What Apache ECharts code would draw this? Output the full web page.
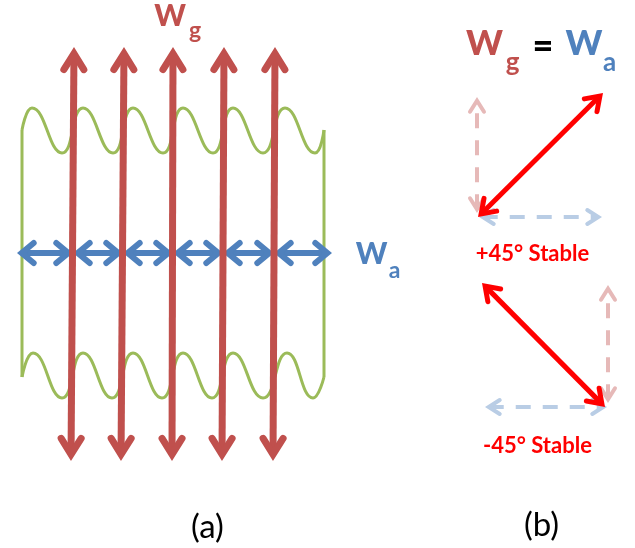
<!DOCTYPE html>
<html>
<head>
<meta charset="utf-8">
<script src="https://cdn.jsdelivr.net/npm/echarts@6/dist/echarts.min.js"></script>
<style>
html,body{margin:0;padding:0;background:#fff;}
#chart{width:635px;height:548px;}
</style>
</head>
<body>
<div id="chart"></div>
<script>
// ---- diagram data (diagram units: x 0..635, y 0..548 downward) ----
const WG_TOP_X = [74, 124, 173, 224, 275];
const WG_BOTTOM_X = [71, 121, 172, 222, 273];
const WG_TOP_Y = 47;
const WG_BOTTOM_Y = 461;
const WA_STOPS = [17, 73, 123, 173, 223, 274, 332];
const WA_Y = 253;
const WAVE_TOP = [[22,130],[32,108],[62,153],[83,108],[113,153],[133,108],[163,153],[183,108],[213,153],[233,108],[263,153],[285,108],[315,153],[324,130]];
const WAVE_BOTTOM = [[22,377],[33,353],[62,398],[83,353],[112,398],[133,353],[162,398],[183,353],[212,398],[233,353],[263,398],[287,353],[313,398],[324,377]];
const SIDE_LEFT = [[22,130],[22,377]];
const SIDE_RIGHT = [[324,130],[324,377]];
const PLUS45_DIAG = [478, 217, 603, 93];
const PLUS45_WG = [477, 213, 477, 97];
const PLUS45_WA = [479, 217, 602, 217];
const MINUS45_DIAG = [482, 283, 605, 407];
const MINUS45_WG = [608, 403, 608, 285];
const MINUS45_WA = [485, 407, 607, 407];
const LABEL_A_WG = [['W', 170, 16], ['g', 195, 31]];
const LABEL_A_WA = [['W', 371.5, 254], ['a', 394.5, 271]];
const LABEL_B_WG = [['W', 484.5, 44], ['g', 512.5, 63]];
const LABEL_B_EQ = [['=', 543, 46]];
const LABEL_B_WA = [['W', 584, 44], ['a', 609.5, 63]];
const LABEL_STABLE = [['+45° Stable', 532.5, 254], ['-45° Stable', 537.5, 446]];
const LABEL_PANEL = [['(a)', 207.5, 527], ['(b)', 541.5, 525]];

// ---- build arrow segment lists from the arrays ----
const wgArrows = WG_TOP_X.map((x, i) => [WG_BOTTOM_X[i], WG_BOTTOM_Y, x, WG_TOP_Y]);
const waArrows = [];
for (let i = 0; i < WA_STOPS.length - 1; i++) waArrows.push([WA_STOPS[i], WA_Y, WA_STOPS[i + 1], WA_Y]);

const RED = '#C0504D', BLUE = '#4F81BD', GREEN = '#9BBB59';

function arrowSeries(name, data, st, z) {
  return {
    type: 'custom', name: name, data: data, z: z, silent: true,
    coordinateSystem: 'cartesian2d',
    encode: { x: [0, 2], y: [1, 3] },
    renderItem: function (params, api) {
      const p1 = api.coord([api.value(0), api.value(1)]);
      const p2 = api.coord([api.value(2), api.value(3)]);
      const dx = p2[0] - p1[0], dy = p2[1] - p1[1];
      const len = Math.hypot(dx, dy);
      const ux = dx / len, uy = dy / len;
      const off = (st.lw / 2) / Math.sin(Math.atan2(st.W, st.L));
      const t1 = [p1[0] + ux * off, p1[1] + uy * off];
      const t2 = [p2[0] - ux * off, p2[1] - uy * off];
      function head(t, d) {
        const bx = t[0] - d[0] * st.L, by = t[1] - d[1] * st.L;
        const nx = -d[1], ny = d[0];
        return {
          type: 'polyline',
          shape: { points: [[bx + nx * st.W, by + ny * st.W], t, [bx - nx * st.W, by - ny * st.W]] },
          style: { stroke: st.color, lineWidth: st.lw, fill: null, lineCap: 'round', lineJoin: 'miter' }
        };
      }
      return {
        type: 'group',
        children: [
          {
            type: 'line',
            shape: { x1: t1[0], y1: t1[1], x2: t2[0], y2: t2[1] },
            style: { stroke: st.color, lineWidth: st.lw, lineCap: 'butt', lineDash: st.dash || null }
          },
          head(t1, [-ux, -uy]),
          head(t2, [ux, uy])
        ]
      };
    }
  };
}

function lineSeries(name, data, smooth) {
  return {
    type: 'line', name: name, data: data, smooth: smooth, showSymbol: false, silent: true, z: 1,
    lineStyle: { color: GREEN, width: 3 }, itemStyle: { color: GREEN }
  };
}

function textSeries(name, items, st) {
  return {
    type: 'custom', name: name, silent: true, z: 10,
    coordinateSystem: 'cartesian2d',
    data: items.map(it => [it[1], it[2]]),
    encode: { x: 0, y: 1 },
    renderItem: function (params, api) {
      const p = api.coord([api.value(0), api.value(1)]);
      const s = st[params.dataIndex];
      return {
        type: 'text', x: p[0], y: p[1],
        style: {
          text: items[params.dataIndex][0], fill: s.color,
          fontSize: s.size, fontWeight: s.weight, fontFamily: 'Lato, "Open Sans", sans-serif',
          align: 'center', verticalAlign: 'middle'
        }
      };
    }
  };
}

const chart = echarts.init(document.getElementById('chart'));
chart.setOption({
  animation: false,
  backgroundColor: '#ffffff',
  grid: { left: 0, right: 0, top: 0, bottom: 0 },
  xAxis: { type: 'value', min: 0, max: 635, show: false },
  yAxis: { type: 'value', min: 0, max: 548, inverse: true, show: false },
  series: [
    lineSeries('wave top', WAVE_TOP, 0.5),
    lineSeries('wave bottom', WAVE_BOTTOM, 0.5),
    lineSeries('side left', SIDE_LEFT, false),
    lineSeries('side right', SIDE_RIGHT, false),
    arrowSeries('Wa', waArrows, { color: BLUE, lw: 6, L: 12, W: 10 }, 2),
    arrowSeries('Wg', wgArrows, { color: RED, lw: 7, L: 16, W: 10 }, 3),
    arrowSeries('+45 Wg', [PLUS45_WG], { color: '#E6B9B8', lw: 4, L: 11, W: 7, dash: [15, 12] }, 4),
    arrowSeries('+45 Wa', [PLUS45_WA], { color: '#B9CDE5', lw: 4, L: 11, W: 7, dash: [15, 12] }, 4),
    arrowSeries('-45 Wg', [MINUS45_WG], { color: '#E6B9B8', lw: 4, L: 11, W: 7, dash: [15, 12] }, 4),
    arrowSeries('-45 Wa', [MINUS45_WA], { color: '#B9CDE5', lw: 4, L: 11, W: 7, dash: [15, 12] }, 4),
    arrowSeries('+45', [PLUS45_DIAG], { color: '#FF0000', lw: 5, L: 13, W: 9 }, 5),
    arrowSeries('-45', [MINUS45_DIAG], { color: '#FF0000', lw: 5, L: 13, W: 9 }, 5),
    textSeries('a Wg', LABEL_A_WG, [{ color: RED, size: 30, weight: 900 }, { color: RED, size: 23, weight: 'bold' }]),
    textSeries('a Wa', LABEL_A_WA, [{ color: BLUE, size: 30, weight: 900 }, { color: BLUE, size: 23, weight: 'bold' }]),
    textSeries('b Wg', LABEL_B_WG, [{ color: RED, size: 35, weight: 900 }, { color: RED, size: 26, weight: 'bold' }]),
    textSeries('b eq', LABEL_B_EQ, [{ color: '#000000', size: 36, weight: 900 }]),
    textSeries('b Wa', LABEL_B_WA, [{ color: BLUE, size: 35, weight: 900 }, { color: BLUE, size: 26, weight: 'bold' }]),
    textSeries('stable', LABEL_STABLE, [{ color: '#FF0000', size: 22, weight: 'bold' }, { color: '#FF0000', size: 22, weight: 'bold' }]),
    textSeries('panel', LABEL_PANEL, [{ color: '#000000', size: 33, weight: 'normal' }, { color: '#000000', size: 33, weight: 'normal' }])
  ]
});
</script>
</body>
</html>
